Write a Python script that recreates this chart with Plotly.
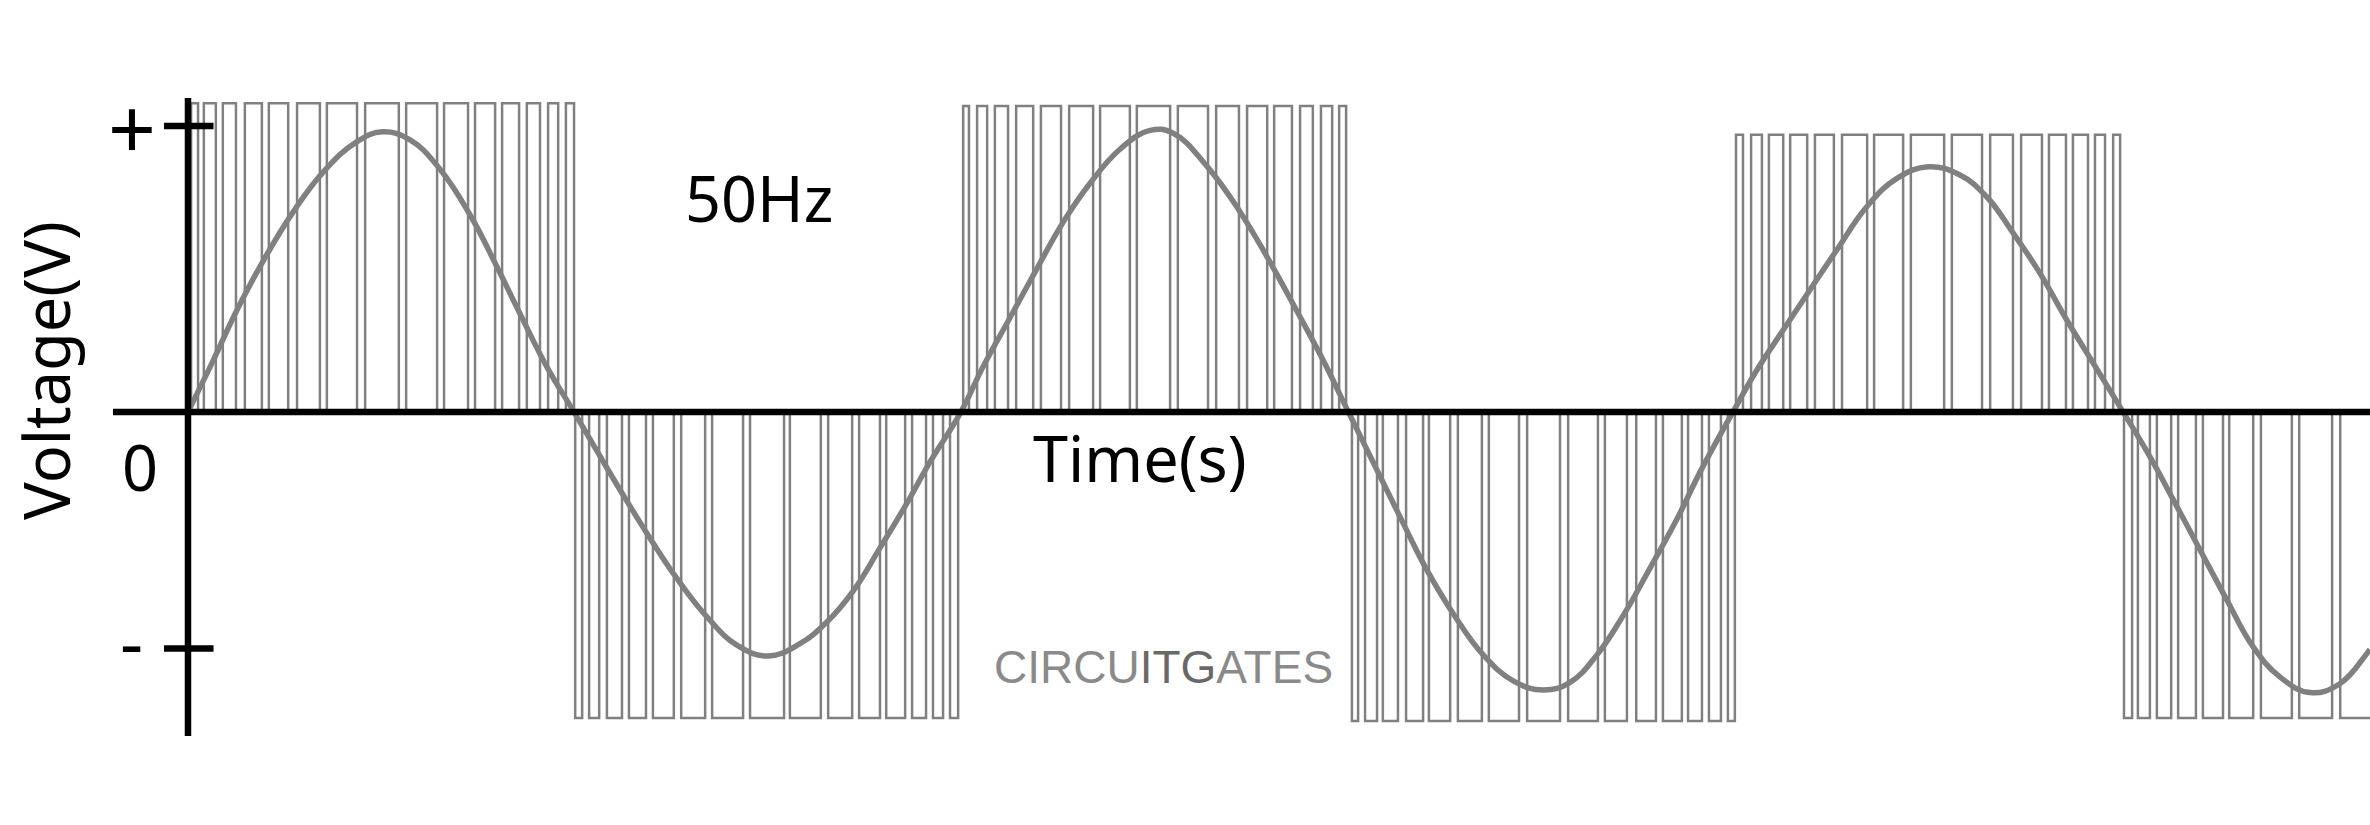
import plotly.graph_objects as go

# ---- PWM pulses (time in ms), one list per half-cycle of the 50 Hz wave ----
pulse_on = [
    [0.08, 0.41, 0.90, 1.47, 2.09, 2.82, 3.59, 4.58, 5.64, 6.62, 7.42, 8.12, 8.76, 9.31, 9.77],
    [10.01, 10.37, 10.83, 11.40, 12.02, 12.75, 13.55, 14.53, 15.56, 16.55, 17.35, 18.05, 18.72, 19.26, 19.70],
    [20.04, 20.40, 20.86, 21.41, 22.05, 22.78, 23.58, 24.53, 25.59, 26.58, 27.38, 28.08, 28.75, 29.29, 29.76],
    [30.09, 30.43, 30.89, 31.49, 32.08, 32.83, 33.63, 34.62, 35.68, 36.63, 37.44, 38.13, 38.78, 39.32, 39.81],
    [40.02, 40.41, 40.87, 41.42, 42.06, 42.76, 43.59, 44.54, 45.60, 46.59, 47.39, 48.11, 48.73, 49.30, 49.77],
    [50.05, 50.41, 50.90, 51.45, 52.09, 52.77, 53.59, 54.58, 55.64],
]
pulse_off = [
    [0.26, 0.72, 1.24, 1.91, 2.59, 3.41, 4.37, 5.45, 6.44, 7.24, 7.94, 8.56, 9.10, 9.57, 9.98],
    [10.19, 10.63, 11.22, 11.84, 12.56, 13.37, 14.35, 15.41, 16.36, 17.17, 17.89, 18.54, 19.08, 19.52, 19.91],
    [20.19, 20.66, 21.20, 21.85, 22.57, 23.40, 24.35, 25.39, 26.37, 27.17, 27.90, 28.54, 29.08, 29.58, 29.94],
    [30.25, 30.74, 31.28, 31.93, 32.63, 33.45, 34.41, 35.47, 36.45, 37.20, 37.95, 38.62, 39.14, 39.63, 39.99],
    [40.20, 40.69, 41.24, 41.86, 42.55, 43.41, 44.34, 45.40, 46.38, 47.18, 47.93, 48.55, 49.12, 49.56, 49.95],
    [50.26, 50.72, 51.27, 51.91, 52.61, 53.39, 54.39, 55.43, 56.50],
]
pulse_level = [1.08, -1.07, 1.07, -1.08, 0.97, -1.07]

# ---- 50 Hz reference wave (time in ms, voltage in units of the "+" tick) ----
sine_t = [0, 0.65, 1.26, 1.95, 2.72, 3.50, 4.36, 5.02, 5.74, 6.51, 7.29, 7.98, 8.58, 9.27, 9.98,
          10.48, 11.25, 11.94, 12.63, 13.41, 14.19, 15.00, 15.82, 16.51, 17.20, 17.89, 18.58, 19.18, 19.98,
          20.56, 21.25, 21.94, 22.63, 23.32, 24.10, 24.87, 25.47, 26.34, 27.20, 27.97, 28.66, 29.35, 30.00,
          30.82, 31.42, 32.02, 32.71, 33.49, 34.26, 35.04, 35.73, 36.42, 37.11, 37.80, 38.49, 39.09, 39.94,
          40.56, 41.24, 41.93, 42.62, 43.40, 44.18, 44.99, 45.81, 46.50, 47.19, 47.88, 48.57, 49.26, 50.03,
          50.72, 51.33, 52.02, 52.71, 53.39, 54.08, 54.86, 55.64, 56.33, 56.41]
sine_v = [0, 0.180, 0.355, 0.530, 0.700, 0.840, 0.945, 0.980, 0.952, 0.850, 0.690, 0.510, 0.345, 0.160, 0,
          -0.115, -0.290, -0.440, -0.580, -0.715, -0.815, -0.853, -0.810, -0.735, -0.625, -0.475, -0.320, -0.175, 0,
          0.160, 0.330, 0.500, 0.665, 0.800, 0.920, 0.985, 0.975, 0.860, 0.700, 0.525, 0.355, 0.180, 0,
          -0.225, -0.390, -0.550, -0.705, -0.850, -0.940, -0.972, -0.945, -0.850, -0.710, -0.545, -0.375, -0.210, 0,
          0.147, 0.287, 0.427, 0.566, 0.718, 0.817, 0.858, 0.829, 0.753, 0.625, 0.485, 0.322, 0.170, 0,
          -0.156, -0.308, -0.483, -0.657, -0.821, -0.926, -0.981, -0.949, -0.844, -0.830]

tick_values = [1.0, -0.827]
tick_labels = ["+", "-"]
tick_label_sizes = [84, 72]
tick_label_offsets = [0.0, 0.03]

GRAY = "#808080"
FONT = "Noto Sans"

px, py = [], []
for ons, offs, lvl in zip(pulse_on, pulse_off, pulse_level):
    for a, b in zip(ons, offs):
        px += [a, a, b, b, None]
        py += [0, lvl, lvl, 0, None]

fig = go.Figure()
fig.add_trace(go.Scatter(x=px, y=py, mode="lines", line=dict(color=GRAY, width=2.5),
                         hoverinfo="skip", showlegend=False))
fig.add_trace(go.Scatter(x=sine_t, y=sine_v, mode="lines",
                         line=dict(color=GRAY, width=5.5, shape="spline", smoothing=1.2),
                         hoverinfo="skip", showlegend=False))

AX = dict(color="black", width=6.5)
shapes = [
    dict(type="line", xref="x", yref="y", x0=0, x1=0, y0=-1.133, y1=1.098, line=AX, layer="above"),
    dict(type="line", xref="x", yref="y", x0=-1.94, x1=56.6, y0=0, y1=0, line=AX, layer="above"),
]
for v in tick_values:
    shapes.append(dict(type="line", xref="x", yref="y", x0=-0.62, x1=0.66, y0=v, y1=v, line=AX, layer="above"))

ann = []
for v, lab, sz, off in zip(tick_values, tick_labels, tick_label_sizes, tick_label_offsets):
    ann.append(dict(x=-1.45, y=v + off, text=lab, showarrow=False, xanchor="center", yanchor="middle",
                    font=dict(family=FONT, size=sz, color="black")))
ann += [
    dict(x=-1.23, y=-0.19, text="0", showarrow=False, font=dict(family=FONT, size=63, color="black")),
    dict(x=-3.70, y=0.147, text="Voltage(V)", textangle=-90, showarrow=False,
         font=dict(family=FONT, size=63, color="black")),
    dict(x=24.6, y=-0.16, text="Time(s)", showarrow=False, font=dict(family=FONT, size=63, color="black")),
    dict(x=14.76, y=0.75, text="50Hz", showarrow=False, font=dict(family=FONT, size=63, color="black")),
    dict(x=25.23, y=-0.89, showarrow=False,
         text="CIRCU<span style='color:#686868'>ITG</span>ATES",
         font=dict(family="Liberation Sans", size=46, color="#8a8a8a")),
]

fig.update_layout(
    width=2370, height=825,
    margin=dict(l=0, r=0, t=0, b=0),
    paper_bgcolor="white", plot_bgcolor="white",
    xaxis=dict(range=[-4.86, 56.41], visible=False),
    yaxis=dict(range=[-1.444, 1.441], visible=False),
    shapes=shapes, annotations=ann, showlegend=False,
)
fig.write_html("out.html",
               config={"displayModeBar": False, "staticPlot": True},
               post_script="document.body.style.margin='0';document.body.style.overflow='hidden';")
